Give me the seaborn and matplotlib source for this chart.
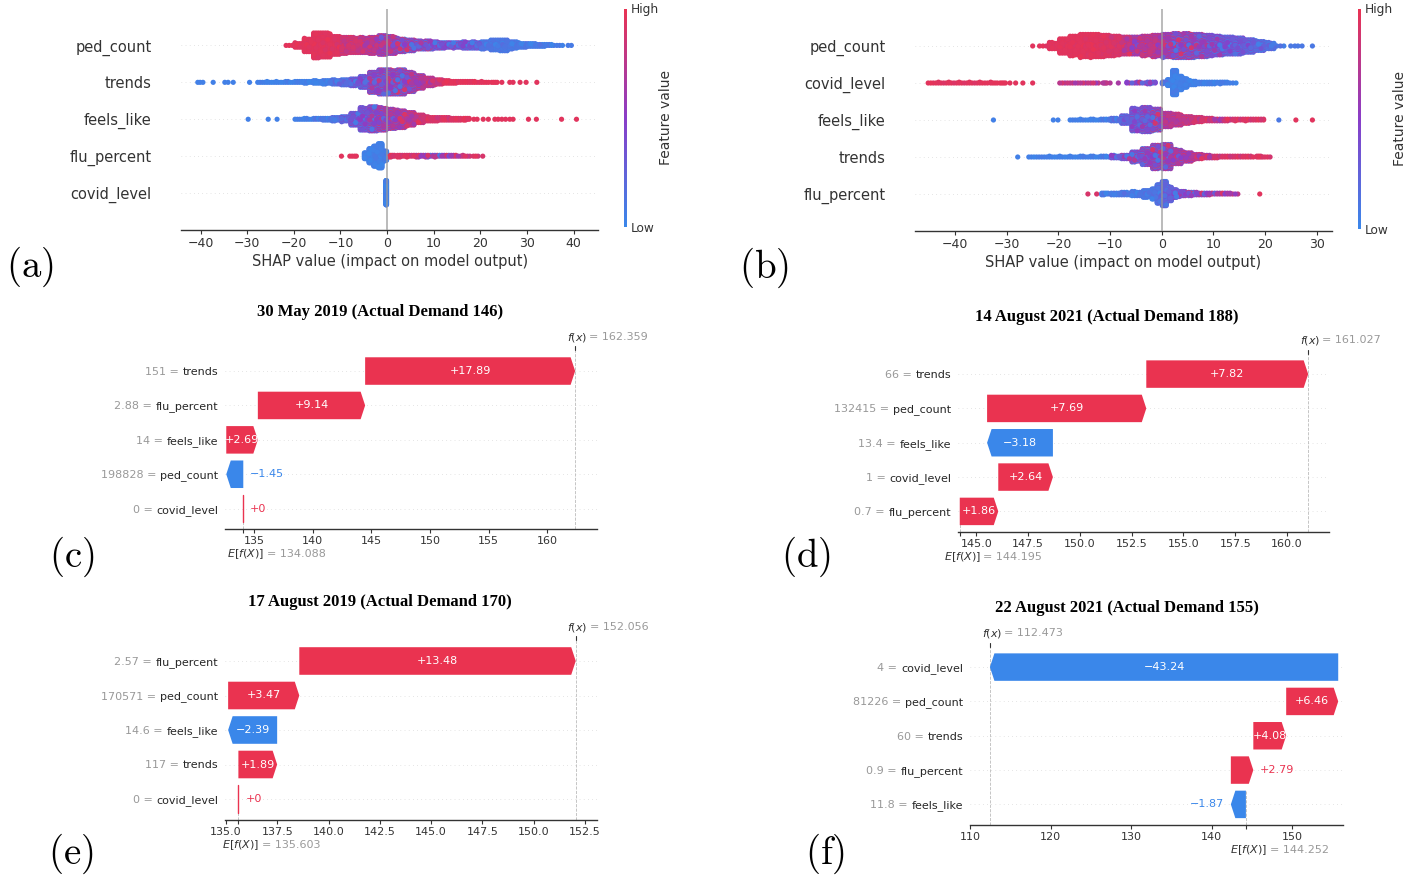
import numpy as np
import pandas as pd
import matplotlib
matplotlib.use("Agg")
import matplotlib.pyplot as plt
import matplotlib.transforms as mtransforms
from matplotlib.colors import LinearSegmentedColormap, Normalize
from matplotlib.cm import ScalarMappable
from matplotlib.patches import Polygon
from matplotlib.ticker import MultipleLocator
import seaborn as sns

# ====================== DATA ======================
# ---- (a) beeswarm: SHAP value bins, point counts, mean feature value (0=low,1=high)
A_FEATURES = ["ped_count", "trends", "feels_like", "flu_percent", "covid_level"]

A_PED_X = [-21, -19, -17, -15, -13, -11, -9, -7, -5, -3, -1, 1, 3, 5, 7, 9, 11, 13, 15, 17,
           19, 21, 23, 25, 27, 29, 31, 33, 35, 37, 38.8, 39.5]
A_PED_N = [3, 21, 61, 115, 111, 84, 75, 70, 70, 75, 88, 79, 61, 52, 39, 39, 30, 25, 25, 30,
           30, 34, 48, 52, 34, 21, 16, 12, 7, 3, 1, 1]
A_PED_C = [0.95, 0.95, 0.95, 0.95, 0.95, 0.93, 0.85, 0.85, 0.75, 0.75, 0.6, 0.6, 0.5, 0.5, 0.45, 0.45, 0.35, 0.35, 0.35, 0.3,
           0.25, 0.12, 0.1, 0.1, 0.1, 0.1, 0.08, 0.08, 0.08, 0.08, 0.08, 0.08]

A_TRE_X = [-40.6, -40.1, -39.5, -37.3, -34.8, -34.1, -33.0, -29.5,
           -27, -25, -23, -21, -19, -17, -15, -13, -11, -9, -7, -5, -3, -1, 1, 3, 5, 7, 9, 11, 13, 15, 17, 19, 21, 23,
           24.6, 26.3, 27.0, 28.5, 29.8, 32.1]
A_TRE_N = [1, 1, 1, 1, 1, 1, 1, 1,
           4, 5, 5, 6, 8, 10, 14, 18, 22, 28, 35, 55, 100, 120, 118, 120, 95, 65, 40, 25, 15, 10, 8, 6, 5, 4,
           1, 1, 1, 1, 1, 1]
A_TRE_C = [0.05, 0.05, 0.05, 0.05, 0.05, 0.05, 0.05, 0.05,
           0.05, 0.05, 0.05, 0.05, 0.05, 0.05, 0.05, 0.08, 0.15, 0.15, 0.3, 0.3, 0.45, 0.45, 0.5, 0.5, 0.55, 0.65, 0.75, 0.85, 0.95, 0.95, 0.95, 0.95, 0.95, 0.95,
           0.95, 0.95, 0.95, 0.95, 0.95, 0.95]

A_FEE_X = [-29.8, -25.5, -23.6,
           -19, -17, -15, -13, -11, -9, -7, -5, -3, -1, 1, 3, 5, 7, 9, 11, 13, 15, 17,
           18.6, 19.3, 20.6, 21.7, 23.1, 23.8, 24.6, 25.4, 26.3, 27.0, 30.3, 32.0, 37.4, 40.6]
A_FEE_N = [1, 1, 1,
           4, 6, 8, 12, 18, 25, 60, 110, 120, 110, 95, 85, 65, 40, 22, 18, 15, 12, 10,
           1, 1, 1, 1, 1, 1, 1, 1, 1, 1, 1, 1, 1, 1]
A_FEE_C = [0.05, 0.05, 0.05,
           0.05, 0.05, 0.1, 0.1, 0.15, 0.25, 0.35, 0.35, 0.45, 0.55, 0.6, 0.65, 0.75, 0.85, 0.9, 0.9, 0.9, 0.92, 0.95,
           0.95, 0.95, 0.95, 0.95, 0.95, 0.95, 0.95, 0.95, 0.95, 0.95, 0.95, 0.95, 0.95, 0.95]

A_FLU_X = [-9.8, -8.0, -7.5, -7.0, -6.6, -4.5, -3.5, -2.5, -1.5, -0.5, 1, 3, 5, 7, 9, 11, 13, 15, 17, 19, 20.5]
A_FLU_N = [1, 1, 1, 1, 1, 30, 70, 100, 120, 50, 10, 10, 9, 10, 10, 9, 8, 6, 5, 3, 1]
A_FLU_C = [0.95, 0.95, 0.95, 0.95, 0.95, 0.05, 0.05, 0.05, 0.05, 0.08, 0.92, 0.92, 0.9, 0.7, 0.55, 0.5, 0.6, 0.75, 0.85, 0.9, 0.9]

A_COV_X = [-0.2]
A_COV_N = [120]
A_COV_C = [0.05]

# ---- (b) beeswarm
B_FEATURES = ["ped_count", "covid_level", "feels_like", "trends", "flu_percent"]

B_PED_X = [-25.0, -23, -21, -19, -17, -15, -13, -11, -9, -7, -5, -3, -1, 1, 3, 5, 7, 9, 11, 13, 15, 17, 19, 21, 23,
           25.0, 25.8, 26.4, 27.2, 29.2]
B_PED_N = [1, 3, 30, 68, 90, 105, 105, 98, 90, 80, 80, 90, 98, 105, 111, 111, 105, 98, 87, 80, 75, 60, 45, 30, 3,
           1, 1, 1, 1, 1]
B_PED_C = [0.95, 0.95, 0.95, 0.95, 0.95, 0.95, 0.95, 0.93, 0.9, 0.8, 0.65, 0.75, 0.72, 0.6, 0.5, 0.5, 0.45, 0.4, 0.35, 0.3, 0.3, 0.25, 0.2, 0.15, 0.1,
           0.1, 0.1, 0.1, 0.1, 0.1]

B_COV_X = [-44.5, -42.5, -40.5, -38.5, -36.5, -34.5, -32.5, -30.8, -29.4, -28.3, -26.9, -25.0,
           -19, -17, -15, -13, -11, -10.0, -8.4, -6, -4, -2,
           0.5, 1.5, 2.5, 3.5, 4.5, 6, 8, 10, 12, 13.8]
B_COV_N = [4, 5, 5, 5, 5, 5, 5, 4, 1, 1, 1, 1,
           4, 4, 4, 4, 4, 1, 1, 5, 6, 10,
           9, 30, 120, 68, 45, 21, 12, 11, 9, 3]
B_COV_C = [0.95, 0.95, 0.95, 0.95, 0.95, 0.95, 0.95, 0.95, 0.95, 0.95, 0.95, 0.95,
           0.75, 0.75, 0.72, 0.72, 0.7, 0.7, 0.65, 0.5, 0.45, 0.38,
           0.15, 0.05, 0.05, 0.05, 0.05, 0.05, 0.05, 0.05, 0.05, 0.05]

B_FEE_X = [-32.6, -21.0, -20.1,
           -17, -15, -13, -11, -9, -7, -5, -3, -1, 1, 3, 5, 7, 9, 11, 13, 15, 17, 19,
           22.7, 26.0, 29.2]
B_FEE_N = [1, 1, 1,
           4, 5, 6, 8, 15, 39, 110, 120, 105, 68, 55, 35, 25, 16, 12, 10, 9, 9, 8,
           1, 1, 1]
B_FEE_C = [0.05, 0.05, 0.05,
           0.05, 0.05, 0.05, 0.08, 0.15, 0.25, 0.35, 0.4, 0.5, 0.7, 0.75, 0.8, 0.85, 0.85, 0.7, 0.85, 0.9, 0.9, 0.92,
           0.1, 0.95, 0.95]

B_TRE_X = [-27.9, -25, -23, -21, -19, -17, -15, -13, -11, -9, -7, -5, -3, -1, 1, 3, 5, 7, 9, 11, 13, 15, 17, 19, 20.5]
B_TRE_N = [1, 4, 4, 5, 5, 5, 6, 6, 7, 14, 20, 50, 80, 115, 120, 70, 45, 25, 15, 10, 8, 8, 7, 7, 3]
B_TRE_C = [0.05, 0.05, 0.05, 0.05, 0.05, 0.05, 0.05, 0.05, 0.08, 0.3, 0.4, 0.4, 0.45, 0.5, 0.55, 0.6, 0.7, 0.75, 0.75, 0.88, 0.9, 0.9, 0.92, 0.92, 0.92]

B_FLU_X = [-14.3, -12.6, -11, -9, -7, -5, -3, -1.5, -0.5, 0.5, 1.5, 2.5, 4, 6, 8, 10, 12, 14, 19.0]
B_FLU_N = [1, 1, 10, 12, 15, 22, 35, 50, 90, 120, 70, 40, 25, 18, 12, 9, 8, 5, 1]
B_FLU_C = [0.9, 0.9, 0.1, 0.1, 0.1, 0.1, 0.1, 0.12, 0.15, 0.2, 0.25, 0.3, 0.4, 0.45, 0.5, 0.6, 0.65, 0.7, 0.95]

# ---- waterfall panels (rows listed top -> bottom)
C_TITLE = "30 May 2019 (Actual Demand 146)"
C_NAMES = ["trends", "flu_percent", "feels_like", "ped_count", "covid_level"]
C_FVALS = [151, 2.88, 14, 198828, 0]
C_SHAP = [17.89, 9.14, 2.69, -1.45, 0.0]
C_BASE, C_FX = 134.088, 162.359

D_TITLE = "14 August 2021 (Actual Demand 188)"
D_NAMES = ["trends", "ped_count", "feels_like", "covid_level", "flu_percent"]
D_FVALS = [66, 132415, 13.4, 1, 0.7]
D_SHAP = [7.82, 7.69, -3.18, 2.64, 1.86]
D_BASE, D_FX = 144.195, 161.027

E_TITLE = "17 August 2019 (Actual Demand 170)"
E_NAMES = ["flu_percent", "ped_count", "feels_like", "trends", "covid_level"]
E_FVALS = [2.57, 170571, 14.6, 117, 0]
E_SHAP = [13.48, 3.47, -2.39, 1.89, 0.0]
E_BASE, E_FX = 135.603, 152.056

F_TITLE = "22 August 2021 (Actual Demand 155)"
F_NAMES = ["covid_level", "ped_count", "trends", "flu_percent", "feels_like"]
F_FVALS = [4, 81226, 60, 0.9, 11.8]
F_SHAP = [-43.24, 6.46, 4.08, 2.79, -1.87]
F_BASE, F_FX = 144.252, 112.473

# ====================== STYLE ======================
sns.set_theme(style="white")
plt.rcParams["font.family"] = ["DejaVu Sans"]
plt.rcParams["axes.unicode_minus"] = True

RED = "#ea3350"
BLUE = "#3a87ea"
CMAP = LinearSegmentedColormap.from_list("shap_rb", ["#3a87ea", "#8a3dc8", "#ea3352"])
TXT = "#333333"

W, H = 1409, 883
fig = plt.figure(figsize=(W / 100, H / 100), dpi=100)
fig.patch.set_facecolor("white")


def px_axes(l, t, r, b):
    return fig.add_axes([l / W, 1 - b / H, (r - l) / W, (b - t) / H])


PATTERN = np.array([0.0, 0.5, -0.5, 0.25, -0.25, 0.75, -0.75])


def swarm_layout(xs, ns, cs):
    xs = np.asarray(xs, float)
    ns = np.asarray(ns, int)
    cs = np.asarray(cs, float)
    px, layers, vals = [], [], []
    for i in range(len(xs)):
        if len(xs) > 1:
            d = np.abs(xs - xs[i])
            d[i] = np.inf
            w = min(2.0, d.min())
        else:
            w = 0.2
        m = max(1, min(ns[i], 4))
        spread = min(cs[i], 1 - cs[i])
        for k in range(ns[i]):
            j = k % m
            layer = k // m
            px.append(xs[i] + (w * ((j + 0.5) / m - 0.5) if m > 1 else 0.0))
            layers.append(np.ceil(layer / 2) * ((layer % 2) * 2 - 1))
            vals.append(np.clip(cs[i] + spread * PATTERN[k % len(PATTERN)], 0, 1))
    ys = np.array(layers, float)
    ys *= 0.9 * 0.4 / np.max(ys + 1)
    order = np.argsort((np.arange(len(px)) * 0.6180339887) % 1.0)
    return np.array(px)[order], ys[order], np.array(vals)[order]


def beeswarm(ax, features, data, xlim, cax):
    n = len(features)
    frames = []
    for idx, f in enumerate(features):
        xs, ns, cs = data[f]
        px, py, pv = swarm_layout(xs, ns, cs)
        row = n - 1 - idx
        frames.append(pd.DataFrame({"shap": px, "row": row + py, "value": pv}))
    df = pd.concat(frames, ignore_index=True)
    for r in range(n):
        ax.axhline(r, color="#cccccc", lw=0.5, dashes=(1, 5), zorder=-1)
    sns.scatterplot(data=df, x="shap", y="row", hue="value", palette=CMAP, hue_norm=(0, 1),
                    s=14, linewidth=0, edgecolor="none", legend=False, ax=ax, zorder=3)
    ax.axvline(0, color="#999999", lw=1.1, zorder=4, alpha=0.85)
    ax.set_xlim(xlim)
    ax.set_ylim(-1, n)
    ax.set_yticks(range(n))
    ax.set_yticklabels(features[::-1], fontsize=10.5, color=TXT)
    ax.tick_params(axis="y", length=0, pad=21)
    ax.xaxis.set_major_locator(MultipleLocator(10))
    ax.tick_params(axis="x", length=3, width=0.8, color=TXT, labelsize=9, labelcolor=TXT, pad=2, bottom=True)
    ax.set_xlabel("SHAP value (impact on model output)", fontsize=10.5, color=TXT, labelpad=3)
    ax.set_ylabel("")
    for s in ["top", "right", "left"]:
        ax.spines[s].set_visible(False)
    ax.spines["bottom"].set_color(TXT)
    ax.spines["bottom"].set_linewidth(1.0)
    ax.set_facecolor("white")
    cb = fig.colorbar(ScalarMappable(norm=Normalize(0, 1), cmap=CMAP), cax=cax, ticks=[0, 1])
    cb.set_ticklabels(["Low", "High"])
    cb.ax.tick_params(labelsize=8.7, length=0, pad=3, labelcolor=TXT)
    cb.set_label("Feature value", size=10, labelpad=0, color=TXT)
    cb.outline.set_visible(False)


def fmt(v, f):
    s = f % v
    if "." in s:
        s = s.rstrip("0").rstrip(".")
    return s.replace("-", "\u2212")


def waterfall(ax, names, fvals, svals, base, fx, xlim, step):
    n = len(names)
    ax.set_xlim(xlim)
    ax.set_ylim(-0.6, n - 0.4)
    renderer = fig.canvas.get_renderer()
    bbox = ax.get_window_extent(renderer)
    ppu = bbox.width / (xlim[1] - xlim[0])
    hl = 4.5 / ppu
    trans = mtransforms.blended_transform_factory(ax.transData, ax.transAxes)

    for r in range(n):
        ax.axhline(r, color="#cccccc", lw=0.5, dashes=(1, 5), zorder=0)
    ax.axvline(fx, color="#bbbbbb", ls="--", lw=0.6, zorder=1)
    ax.plot([base, base], [-0.6, 0.4], color="#bbbbbb", ls="--", lw=0.6, zorder=1)

    start = base
    for i in range(n - 1, -1, -1):
        y = n - 1 - i
        v = svals[i]
        end = start + v
        color = RED if v >= 0 else BLUE
        if v == 0:
            ax.plot([start, start], [y - 0.4, y + 0.4], color=RED, lw=1.0, zorder=3)
        else:
            sgn = np.sign(v)
            h = min(abs(v), hl)
            body = end - sgn * h
            ax.add_patch(Polygon([(start, y - 0.4), (body, y - 0.4), (end, y), (body, y + 0.4), (start, y + 0.4)],
                                 closed=True, facecolor=color, edgecolor="none", zorder=3))
        label = fmt(v, "%+0.2f")
        txt = ax.text((start + end) / 2, y, label, ha="center", va="center", color="white", fontsize=8, zorder=4)
        tw = txt.get_window_extent(renderer).width
        if tw * 0.85 > abs(v) * ppu:
            txt.remove()
            if v >= 0:
                ax.annotate(label, xy=(end, y), xytext=(5, 0), textcoords="offset points",
                            ha="left", va="center", color=color, fontsize=8, zorder=4)
            else:
                # left of the arrow tip, unless that would run into the feature labels
                left_px = (end - xlim[0]) * ppu - 5 * fig.dpi / 72.0 - tw
                if left_px >= 0:
                    ax.annotate(label, xy=(end, y), xytext=(-5, 0), textcoords="offset points",
                                ha="right", va="center", color=color, fontsize=8, zorder=4)
                else:
                    ax.annotate(label, xy=(start, y), xytext=(5, 0), textcoords="offset points",
                                ha="left", va="center", color=color, fontsize=8, zorder=4)
        start = end

    for i in range(n):
        y = n - 1 - i
        name_ann = ax.annotate(names[i], xy=(0, y), xycoords=("axes fraction", "data"), xytext=(-5, 0),
                               textcoords="offset points", ha="right", va="center_baseline",
                               fontsize=8, color="#262626")
        wpt = name_ann.get_window_extent(renderer).width * 72.0 / fig.dpi
        ax.annotate(fmt(fvals[i], "%0.3f") + " =", xy=(0, y), xycoords=("axes fraction", "data"),
                    xytext=(-5 - wpt - 2.6, 0), textcoords="offset points", ha="right",
                    va="center_baseline", fontsize=8, color="#999999")

    ax.plot([fx, fx], [1.0, 1.022], transform=trans, color=TXT, lw=0.8, clip_on=False)
    ax.annotate("$f(x)$", xy=(fx, 1), xycoords=trans, xytext=(-6, 9.5), textcoords="offset points",
                ha="left", va="center", fontsize=8, color=TXT)
    ax.annotate("= " + fmt(fx, "%0.3f"), xy=(fx, 1), xycoords=trans, xytext=(10, 9.5), textcoords="offset points",
                ha="left", va="center", fontsize=8, color="#999999")
    ax.annotate("$E[f(X)]$", xy=(base, 0), xycoords=trans, xytext=(-11.5, -18), textcoords="offset points",
                ha="left", va="center", fontsize=8, color=TXT)
    ax.annotate("= " + fmt(base, "%0.3f"), xy=(base, 0), xycoords=trans, xytext=(17, -18), textcoords="offset points",
                ha="left", va="center", fontsize=8, color="#999999")

    ax.set_yticks([])
    ax.xaxis.set_major_locator(MultipleLocator(step))
    ax.set_xticks([base], minor=True)
    ax.tick_params(axis="x", which="major", length=3, width=0.8, color=TXT, labelsize=8, labelcolor=TXT, pad=2, bottom=True)
    ax.tick_params(axis="x", which="minor", length=3, width=0.8, color=TXT, bottom=True)
    for s in ["top", "right", "left"]:
        ax.spines[s].set_visible(False)
    ax.spines["bottom"].set_color(TXT)
    ax.spines["bottom"].set_linewidth(1.0)
    ax.set_facecolor("white")


# ---------- (a) ----------
axA = px_axes(181, 8.5, 598.4, 230)
caxA = px_axes(623.5, 8.5, 626.5, 227)
beeswarm(axA, A_FEATURES, {
    "ped_count": (A_PED_X, A_PED_N, A_PED_C),
    "trends": (A_TRE_X, A_TRE_N, A_TRE_C),
    "feels_like": (A_FEE_X, A_FEE_N, A_FEE_C),
    "flu_percent": (A_FLU_X, A_FLU_N, A_FLU_C),
    "covid_level": (A_COV_X, A_COV_N, A_COV_C),
}, (-44.2, 45.3), caxA)

# ---------- (b) ----------
axB = px_axes(915, 9, 1331.5, 231)
caxB = px_axes(1357.5, 8.5, 1360.5, 228.5)
beeswarm(axB, B_FEATURES, {
    "ped_count": (B_PED_X, B_PED_N, B_PED_C),
    "covid_level": (B_COV_X, B_COV_N, B_COV_C),
    "feels_like": (B_FEE_X, B_FEE_N, B_FEE_C),
    "trends": (B_TRE_X, B_TRE_N, B_TRE_C),
    "flu_percent": (B_FLU_X, B_FLU_N, B_FLU_C),
}, (-47.8, 32.9), caxB)

# ---------- waterfalls ----------
axC = px_axes(225, 350.4, 597, 529.3)
waterfall(axC, C_NAMES, C_FVALS, C_SHAP, C_BASE, C_FX, (132.53, 164.22), 5)
axD = px_axes(958, 353.5, 1329.2, 532)
waterfall(axD, D_NAMES, D_FVALS, D_SHAP, D_BASE, D_FX, (144.11, 162.04), 2.5)
axE = px_axes(225, 640.3, 597, 819.7)
waterfall(axE, E_NAMES, E_FVALS, E_SHAP, E_BASE, E_FX, (134.95, 153.09), 2.5)
axF = px_axes(970, 646.5, 1342.8, 825)
waterfall(axF, F_NAMES, F_FVALS, F_SHAP, F_BASE, F_FX, (110.0, 156.28), 10)

# titles
title_kw = dict(ha="center", va="center", fontsize=12, fontweight="bold",
                family=["Liberation Serif", "DejaVu Serif"], color="black")
fig.text(380 / W, 1 - 312 / H, C_TITLE, **title_kw)
fig.text(1107 / W, 1 - 317 / H, D_TITLE, **title_kw)
fig.text(380 / W, 1 - 602 / H, E_TITLE, **title_kw)
fig.text(1127 / W, 1 - 608 / H, F_TITLE, **title_kw)

# panel letters
for lab, x, y in [("a", 30, 267), ("b", 764, 268), ("c", 72, 557),
                  ("d", 806, 557), ("e", 71, 854), ("f", 825, 854)]:
    fig.text(x / W, 1 - y / H, r"$\mathrm{(" + lab + r")}$", math_fontfamily="cm",
             fontsize=28, ha="center", va="center", color="black")

fig.savefig("out.png", dpi=100, facecolor="white")
